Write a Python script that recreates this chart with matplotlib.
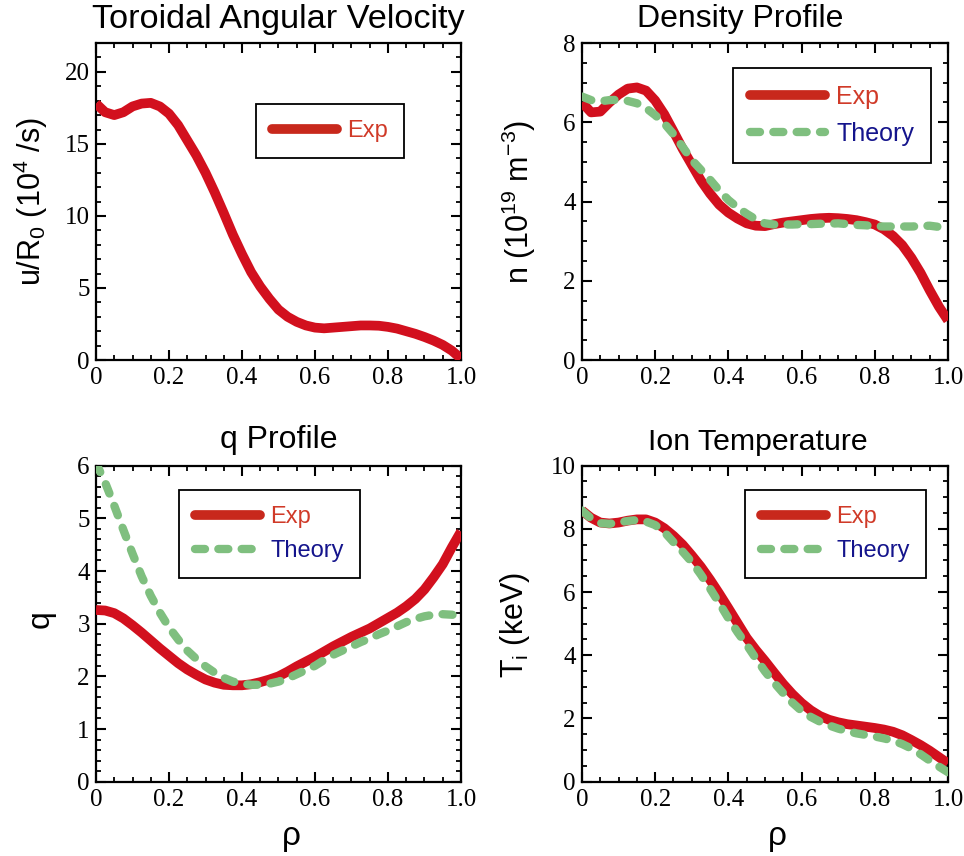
import matplotlib
matplotlib.use("Agg")
import matplotlib.pyplot as plt
from matplotlib.lines import Line2D
from matplotlib.ticker import MultipleLocator

# palette
RED, RED_LEG, GREEN = "#d2101e", "#c8281c", "#7fbf7f"
EXP_TXT, TH_TXT = "#d03a28", "#14148c"
SANS, SERIF = "Liberation Sans", "Liberation Serif"

plt.rcParams.update({
    "font.family": SANS, "mathtext.default": "regular",
    "axes.linewidth": 1.6,
    "xtick.direction": "in", "ytick.direction": "in",
    "xtick.top": True, "ytick.right": True,
    "xtick.major.size": 7, "ytick.major.size": 7,
    "xtick.minor.size": 3.8, "ytick.minor.size": 3.8,
    "xtick.major.width": 1.5, "ytick.major.width": 1.5,
    "xtick.minor.width": 1.3, "ytick.minor.width": 1.3,
    "xtick.major.pad": 5, "ytick.major.pad": 4.5,
})

# ── data ───────────────────────────────────────────────────────────────────────
rho_fine = [0, .025, .05, .075, .1, .125, .15, .175, .2, .225, .25, .275, .3, .325,
            .35, .375, .4, .425, .45, .475, .5, .525, .55, .575, .6, .625, .65,
            .675, .7, .725, .75, .775, .8, .825, .85, .875, .9, .925, .95, .975, 1.0]

vel_exp = [17.8, 17.2, 17.0, 17.2, 17.6, 17.8, 17.85, 17.6, 17.1, 16.3, 15.25, 14.2,
           13.0, 11.65, 10.2, 8.7, 7.35, 6.1, 5.1, 4.25, 3.5, 3.0, 2.65, 2.4, 2.25,
           2.2, 2.25, 2.3, 2.35, 2.4, 2.4, 2.38, 2.3, 2.18, 2.0, 1.82, 1.6, 1.35,
           1.05, 0.65, 0.1]

dens_exp = [6.5, 6.25, 6.27, 6.5, 6.7, 6.85, 6.88, 6.8, 6.55, 6.2, 5.77, 5.33, 4.93,
            4.53, 4.2, 3.92, 3.72, 3.57, 3.45, 3.39, 3.38, 3.43, 3.47, 3.5, 3.53,
            3.56, 3.58, 3.59, 3.58, 3.56, 3.53, 3.48, 3.42, 3.3, 3.13, 2.9, 2.58,
            2.2, 1.76, 1.35, 1.0]
dens_th = [6.65, 6.56, 6.53, 6.56, 6.57, 6.54, 6.48, 6.36, 6.18, 5.97, 5.7, 5.38, 5.05,
           4.8, 4.55, 4.28, 4.04, 3.85, 3.69, 3.55, 3.45, 3.42, 3.42, 3.42, 3.43,
           3.43, 3.44, 3.44, 3.45, 3.43, 3.41, 3.4, 3.38, 3.37, 3.37, 3.37, 3.37,
           3.38, 3.39, 3.36, 3.27]

q_exp = [3.26, 3.25, 3.2, 3.1, 2.97, 2.83, 2.68, 2.53, 2.39, 2.25, 2.13, 2.03, 1.94,
         1.88, 1.84, 1.83, 1.83, 1.85, 1.89, 1.94, 2.0, 2.09, 2.19, 2.28, 2.37, 2.47,
         2.57, 2.66, 2.75, 2.83, 2.91, 3.01, 3.11, 3.21, 3.33, 3.47, 3.65, 3.88,
         4.13, 4.45, 4.75]
q_th = [6.05, 5.68, 5.24, 4.78, 4.33, 3.9, 3.53, 3.21, 2.93, 2.7, 2.49, 2.33, 2.19,
        2.07, 1.97, 1.9, 1.86, 1.84, 1.84, 1.86, 1.9, 1.96, 2.04, 2.12, 2.2, 2.31,
        2.41, 2.49, 2.57, 2.65, 2.72, 2.8, 2.87, 2.95, 3.03, 3.09, 3.14, 3.17, 3.18,
        3.17, 3.15]

ti_exp = [8.58, 8.35, 8.2, 8.17, 8.2, 8.26, 8.3, 8.3, 8.2, 8.02, 7.78, 7.5, 7.16, 6.8,
          6.39, 5.95, 5.49, 5.02, 4.55, 4.17, 3.82, 3.45, 3.09, 2.77, 2.49, 2.26,
          2.08, 1.96, 1.88, 1.82, 1.78, 1.74, 1.7, 1.65, 1.58, 1.47, 1.32, 1.16,
          0.98, 0.78, 0.58]
ti_th = [8.58, 8.33, 8.18, 8.16, 8.2, 8.25, 8.28, 8.23, 8.12, 7.9, 7.58, 7.28, 6.95,
         6.55, 6.11, 5.65, 5.17, 4.73, 4.33, 3.9, 3.49, 3.13, 2.8, 2.5, 2.24, 2.05,
         1.9, 1.78, 1.68, 1.6, 1.53, 1.48, 1.43, 1.37, 1.3, 1.19, 1.05, 0.87, 0.67,
         0.48, 0.3]

x_ticks = [0, 0.2, 0.4, 0.6, 0.8, 1.0]
x_ticklabels = ["0", "0.2", "0.4", "0.6", "0.8", "1.0"]


def style_axes(ax, ylim, ymajor, yminor):
    ax.set_xlim(0, 1)
    ax.set_ylim(*ylim)
    ax.set_xticks(x_ticks)
    ax.set_xticklabels(x_ticklabels)
    ax.xaxis.set_minor_locator(MultipleLocator(0.05))
    ax.yaxis.set_major_locator(MultipleLocator(ymajor))
    ax.yaxis.set_minor_locator(MultipleLocator(yminor))
    ax.tick_params(which="both", top=True, right=True)
    for lab in ax.get_xticklabels() + ax.get_yticklabels():
        lab.set_fontfamily(SERIF)
        lab.set_fontsize(18)


def add_legend(ax, x0, y0, theory=True, fs=17, hl=2.75):
    handles = [Line2D([], [], color=RED_LEG, lw=7, solid_capstyle="round")]
    labels, colors = ["Exp"], [EXP_TXT]
    if theory:
        handles.append(Line2D([], [], color=GREEN, lw=6, dashes=(1.2, 1.6),
                              dash_capstyle="round"))
        labels.append("Theory")
        colors.append(TH_TXT)
    leg = ax.legend(handles, labels, loc="upper left", bbox_to_anchor=(x0, y0),
                    fontsize=fs, handlelength=hl, handletextpad=0.45,
                    borderpad=0.68, labelspacing=0.5, borderaxespad=0,
                    fancybox=False, framealpha=1, edgecolor="black",
                    labelcolor=colors)
    leg.get_frame().set_linewidth(1.3)


def plot_exp(ax, x, y):
    ax.plot(x, y, color=RED, lw=7, solid_capstyle="butt",
            solid_joinstyle="round", zorder=3)


def plot_th(ax, x, y):
    ax.plot(x, y, color=GREEN, lw=6, dashes=(1.2, 1.6), dash_capstyle="round",
            dash_joinstyle="round", zorder=4)


def set_rho_label(ax):
    ax.set_xlabel("ρ", fontsize=24, va="center")
    ax.xaxis.set_label_coords(0.535, -0.172)


fig = plt.figure(figsize=(9.64, 8.56), dpi=100)
ax1 = fig.add_axes([0.0996, 0.5794, 0.3786, 0.3703])
ax2 = fig.add_axes([0.6037, 0.5794, 0.3797, 0.3703])
ax3 = fig.add_axes([0.0996, 0.0868, 0.3786, 0.3692])
ax4 = fig.add_axes([0.6037, 0.0868, 0.3797, 0.3692])

# ── toroidal angular velocity ──────────────────────────────────────────────────
plot_exp(ax1, rho_fine, vel_exp)
style_axes(ax1, (0, 22), 5, 1)
ax1.set_title("Toroidal Angular Velocity", fontsize=24.7, pad=10.5)
ax1.set_ylabel("u/R$_0$ (10$^4$ /s)", fontsize=22, va="center")
ax1.yaxis.set_label_coords(-0.178, 0.5)
add_legend(ax1, 0.438, 0.808, theory=False)

# ── density ────────────────────────────────────────────────────────────────────
plot_exp(ax2, rho_fine, dens_exp)
plot_th(ax2, rho_fine, dens_th)
style_axes(ax2, (0, 8), 2, 0.5)
ax2.set_title("Density Profile", fontsize=23, pad=11.7, x=0.432)
ax2.set_ylabel("n (10$^{19}$ m$^{-3}$)", fontsize=22, va="center")
ax2.yaxis.set_label_coords(-0.172, 0.5)
add_legend(ax2, 0.413, 0.921, fs=18, hl=3.0)

# ── q profile ──────────────────────────────────────────────────────────────────
plot_exp(ax3, rho_fine, q_exp)
plot_th(ax3, rho_fine, q_th)
style_axes(ax3, (0, 6), 1, 0.2)
ax3.set_title("q Profile", fontsize=23, pad=12.5)
ax3.set_ylabel("q", fontsize=23, va="center")
ax3.yaxis.set_label_coords(-0.153, 0.515)
set_rho_label(ax3)
add_legend(ax3, 0.227, 0.923)

# ── ion temperature ────────────────────────────────────────────────────────────
plot_exp(ax4, rho_fine, ti_exp)
plot_th(ax4, rho_fine, ti_th)
style_axes(ax4, (0, 10), 2, 0.5)
ax4.set_title("Ion Temperature", fontsize=21.8, pad=11.5, x=0.481)
ax4.set_ylabel("T$_i$ (keV)", fontsize=22, va="center")
ax4.yaxis.set_label_coords(-0.183, 0.496)
set_rho_label(ax4)
add_legend(ax4, 0.445, 0.923)

fig.savefig("out.png", dpi=100)
